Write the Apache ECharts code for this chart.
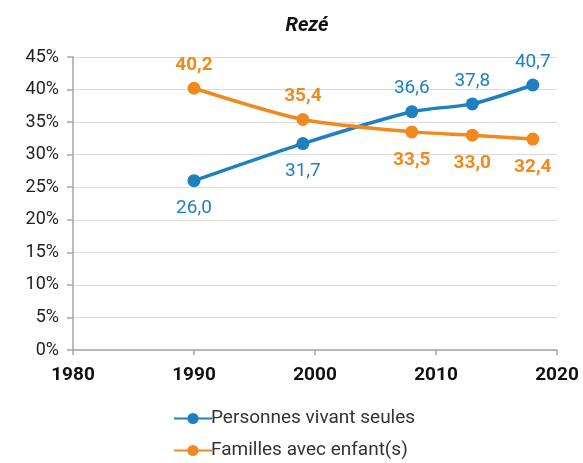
<!DOCTYPE html>
<html>
<head>
<meta charset="utf-8">
<script src="https://cdn.jsdelivr.net/npm/echarts@6/dist/echarts.min.js"></script>
<style>
  html, body { margin: 0; padding: 0; background: #fff; }
  #chart { width: 583px; height: 463px; }
</style>
</head>
<body>
<div id="chart"></div>
<script>
const years = [1990, 1999, 2008, 2013, 2018];
const seules = [26.0, 31.7, 36.6, 37.8, 40.7];
const familles = [40.2, 35.4, 33.5, 33.0, 32.4];
const seriesNames = ['Personnes vivant seules', 'Familles avec enfant(s)'];
const chartTitle = 'Rezé';

const BLUE = '#1f7fbf';
const ORANGE = '#f08a1e';

// label above or below each point, as in the reference
const blueLabelPos = ['bottom', 'bottom', 'top', 'top', 'top'];
const orangeLabelPos = ['top', 'top', 'bottom', 'bottom', 'bottom'];

const fmt = (v) => v.toFixed(1).replace('.', ',');

function buildData(values, positions) {
  return values.map((v, i) => ({
    value: [years[i], v],
    label: { position: positions[i], distance: positions[i] === 'top' ? 7 : 12 },
  }));
}

const chart = echarts.init(document.getElementById('chart'));

chart.setOption({
  animation: false,
  backgroundColor: '#fff',
  textStyle: { fontFamily: 'Roboto' },
  title: {
    text: chartTitle,
    left: 302,
    textAlign: 'center',
    top: 11,
    textStyle: { fontSize: 20, fontWeight: 'bold', fontStyle: 'italic', color: '#111', fontFamily: 'Roboto' },
  },
  grid: { left: 73, right: 26, top: 57, bottom: 113 },
  legend: {
    orient: 'vertical',
    left: 173,
    top: 409,
    padding: 0,
    itemWidth: 38,
    itemHeight: 14,
    itemGap: 13,
    textStyle: { fontSize: 19, lineHeight: 19, color: '#333', padding: [0, 0, 0, -6] },
    data: seriesNames,
  },
  xAxis: {
    type: 'value',
    min: 1980,
    max: 2020,
    interval: 10,
    axisLine: { lineStyle: { color: '#a6a6a6', width: 1.5 } },
    axisTick: { show: true, length: 5, lineStyle: { color: '#a6a6a6', width: 1.5 } },
    axisLabel: { fontSize: 19, fontWeight: 'bold', color: '#111', margin: 16, formatter: (v) => String(v) },
    splitLine: { show: false },
  },
  yAxis: {
    type: 'value',
    min: 0,
    max: 45,
    interval: 5,
    axisLine: { show: true, lineStyle: { color: '#a6a6a6', width: 1.5 } },
    axisTick: { show: true, length: 6, lineStyle: { color: '#a6a6a6', width: 1.5 } },
    axisLabel: { fontSize: 18, color: '#222', margin: 14, formatter: '{value}%' },
    splitLine: { lineStyle: { color: '#dcdcdc', width: 1.2 } },
  },
  series: [
    {
      name: seriesNames[0],
      type: 'line',
      data: buildData(seules, blueLabelPos),
      smooth: 0.25,
      symbol: 'circle',
      symbolSize: 13,
      color: BLUE,
      lineStyle: { color: BLUE, width: 3.5 },
      itemStyle: { color: BLUE },
      label: {
        show: true,
        fontSize: 19,
        color: BLUE,
        formatter: (p) => fmt(p.value[1]),
      },
    },
    {
      name: seriesNames[1],
      type: 'line',
      data: buildData(familles, orangeLabelPos),
      smooth: 0.25,
      symbol: 'circle',
      symbolSize: 13,
      color: ORANGE,
      lineStyle: { color: ORANGE, width: 3.5 },
      itemStyle: { color: ORANGE },
      label: {
        show: true,
        fontSize: 19,
        fontWeight: 'bold',
        color: ORANGE,
        formatter: (p) => fmt(p.value[1]),
      },
    },
  ],
});
</script>
</body>
</html>
